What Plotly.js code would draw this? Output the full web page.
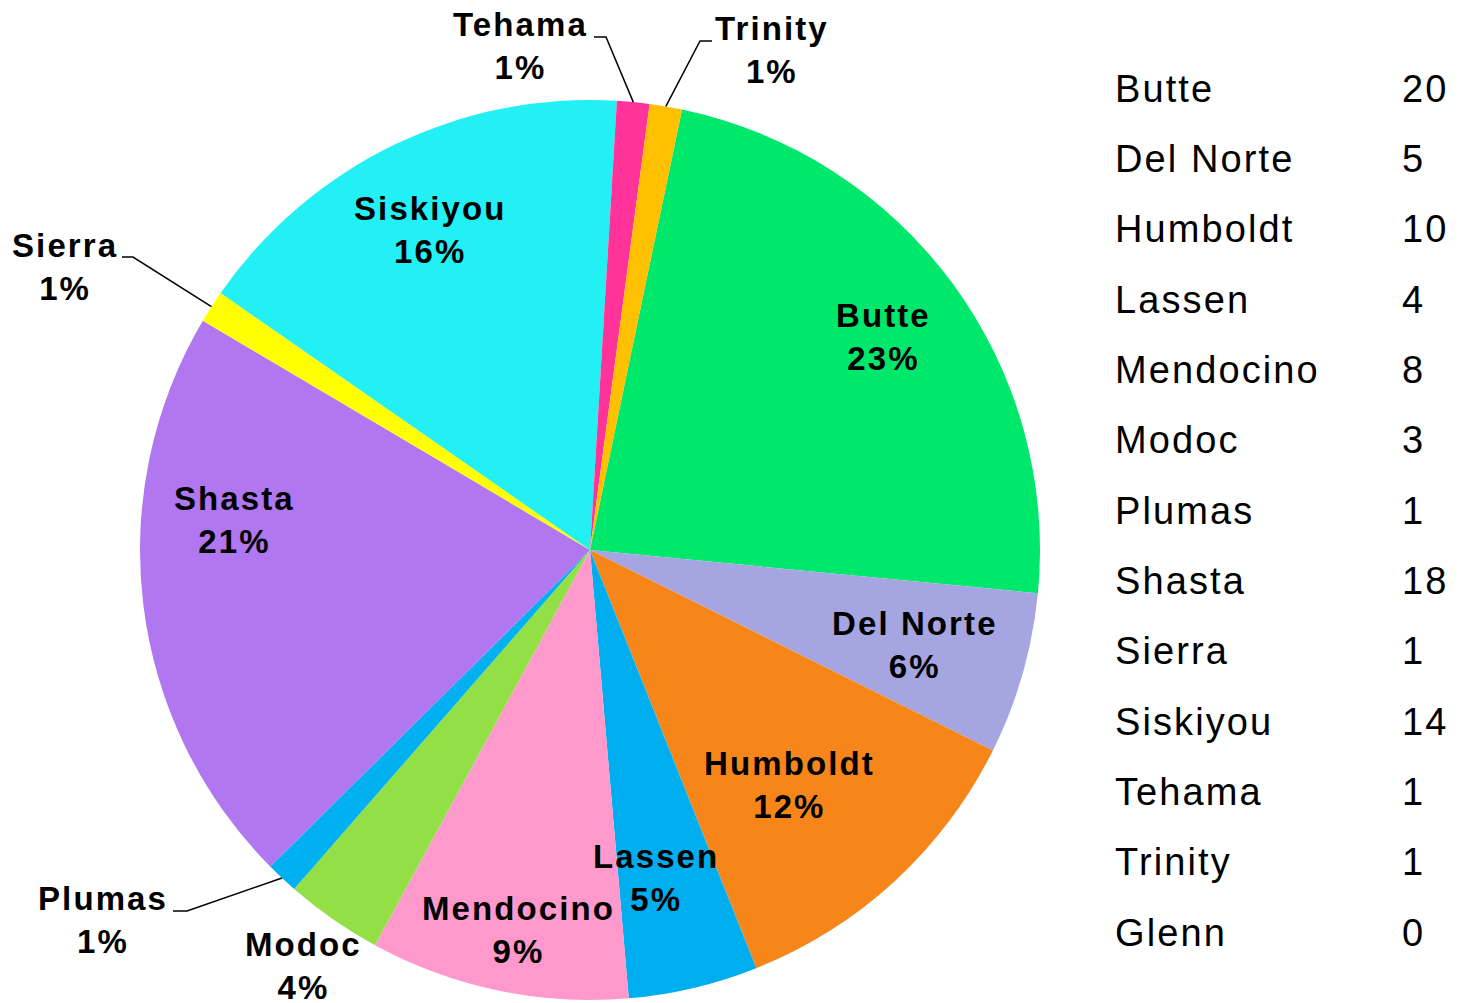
<!DOCTYPE html>
<html>
<head>
<meta charset="utf-8">
<script src="https://cdn.plot.ly/plotly-3.0.1.min.js"></script>
<style>
html, body { margin: 0; padding: 0; background: #ffffff; }
#chart { width: 1470px; height: 1003px; }
svg text { letter-spacing: 2.1px; }
</style>
</head>
<body>
<div id="chart"></div>
<script>
// ---- data ----
const categories = ['Butte', 'Del Norte', 'Humboldt', 'Lassen', 'Mendocino', 'Modoc', 'Plumas', 'Shasta', 'Sierra', 'Siskiyou', 'Tehama', 'Trinity', 'Glenn'];
const counts = [20, 5, 10, 4, 8, 3, 1, 18, 1, 14, 1, 1, 0];
const percentLabels = ['23%', '6%', '12%', '5%', '9%', '4%', '1%', '21%', '1%', '16%', '1%', '1%', '0%'];
const sliceColors = ['#00E86C', '#A5A5E1', '#F7861A', '#00AEEF', '#FF99CC', '#92E046', '#00B0F0', '#B077F0', '#FFFF00', '#22F0F4', '#FF3399', '#FFC000', '#BFBFBF'];

// ---- layout settings ----
const W = 1470, H = 1003;
const CX = 590, CY = 550, R = 450;
const ROTATION = 11.8;
const labelFont = 'Liberation Sans, Arial, sans-serif';

// label text centres (pixels)
const labelPos = {
  'Butte': [884, 337], 'Del Norte': [915, 645], 'Humboldt': [789, 785], 'Lassen': [656, 878],
  'Mendocino': [518, 930], 'Modoc': [303, 966], 'Shasta': [234, 520], 'Siskiyou': [430, 230],
  'Tehama': [520, 46], 'Trinity': [772, 50], 'Sierra': [65, 267], 'Plumas': [103, 920]
};
// leader lines for outside labels (elbow and end points, pixels)
const leaders = {
  'Tehama':  { elbow: [606, 37],  end: [594, 37] },
  'Trinity': { elbow: [700, 41],  end: [712, 41] },
  'Sierra':  { elbow: [133, 257], end: [122, 257] },
  'Plumas':  { elbow: [187, 911], end: [173, 911] }
};

const px = x => x / W;
const py = y => 1 - y / H;

const total = counts.reduce((a, b) => a + b, 0);
const annotations = [];
const shapes = [];
let cum = 0;
categories.forEach((cat, i) => {
  const v = counts[i];
  const mid = (ROTATION + (cum + v / 2) / total * 360) * Math.PI / 180;
  cum += v;
  if (!labelPos[cat]) return;
  const p = labelPos[cat];
  annotations.push({
    x: px(p[0]), y: py(p[1]),
    xref: 'paper', yref: 'paper', xanchor: 'center', yanchor: 'middle',
    text: '<b>' + cat + '<br>' + percentLabels[i] + '</b>', showarrow: false, align: 'center',
    font: { family: labelFont, size: 33, color: '#000000' }
  });
  if (leaders[cat]) {
    const o = leaders[cat];
    const ex = CX + R * Math.sin(mid), ey = CY - R * Math.cos(mid);
    shapes.push({
      type: 'path', xref: 'paper', yref: 'paper',
      path: 'M ' + px(ex) + ',' + py(ey) + ' L ' + px(o.elbow[0]) + ',' + py(o.elbow[1]) + ' L ' + px(o.end[0]) + ',' + py(o.end[1]),
      line: { color: '#000000', width: 1.5 }
    });
  }
});

// table on the right
const tableTop = 88.8, rowStep = 70.33;
categories.forEach((cat, i) => {
  const y = py(tableTop + i * rowStep);
  annotations.push({
    x: px(1113), y: y, xref: 'paper', yref: 'paper', xanchor: 'left', yanchor: 'middle',
    text: cat, showarrow: false, font: { family: labelFont, size: 38, color: '#000000' }
  });
  annotations.push({
    x: px(1400), y: y, xref: 'paper', yref: 'paper', xanchor: 'left', yanchor: 'middle',
    text: String(counts[i]), showarrow: false, font: { family: labelFont, size: 38, color: '#000000' }
  });
});

const trace = {
  type: 'pie',
  labels: categories,
  values: counts,
  sort: false,
  direction: 'clockwise',
  rotation: ROTATION,
  textinfo: 'none',
  hoverinfo: 'none',
  marker: { colors: sliceColors, line: { width: 0 } },
  domain: { x: [px(CX - R), px(CX + R)], y: [py(CY + R), py(CY - R)] }
};

const layout = {
  width: W, height: H,
  margin: { l: 0, r: 0, t: 0, b: 0 },
  paper_bgcolor: '#ffffff',
  showlegend: false,
  annotations: annotations,
  shapes: shapes
};

Plotly.newPlot('chart', [trace], layout, { displayModeBar: false, staticPlot: true });
</script>
</body>
</html>
